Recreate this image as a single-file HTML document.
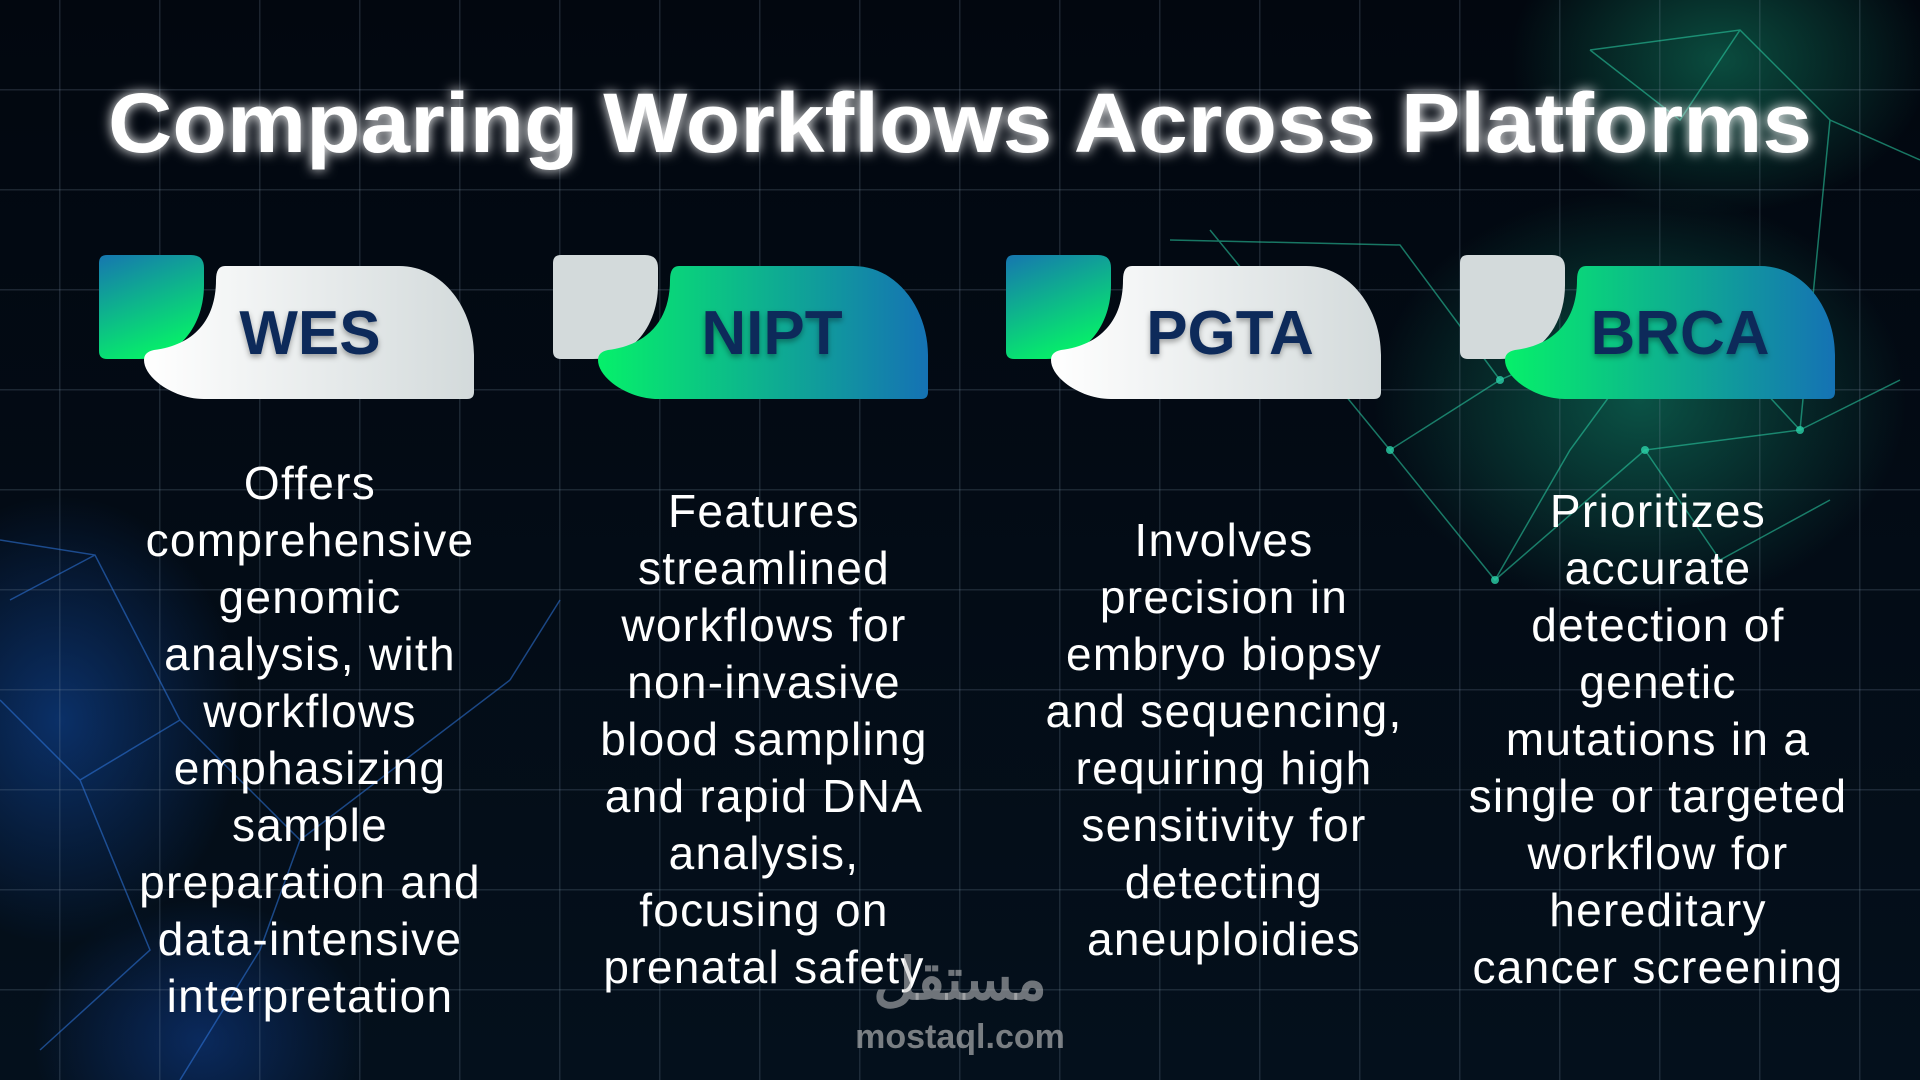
<!DOCTYPE html>
<html><head><meta charset="utf-8"><style>
html,body{margin:0;padding:0}
body{width:1920px;height:1080px;overflow:hidden;background:#030a14;position:relative;font-family:"Liberation Sans","Noto Sans CJK SC",sans-serif}
.bg{position:absolute;inset:0;background:
radial-gradient(ellipse 380px 300px at 1640px 400px,rgba(20,170,130,.45),transparent 70%),
radial-gradient(ellipse 300px 220px at 1720px 60px,rgba(20,160,120,.45),transparent 70%),
radial-gradient(ellipse 260px 320px at 60px 720px,rgba(20,90,200,.45),transparent 70%),
radial-gradient(ellipse 240px 200px at 200px 1040px,rgba(20,80,190,.4),transparent 70%),
linear-gradient(#02070f,#04101c);}
.grid{position:absolute;inset:0;background-image:linear-gradient(90deg,rgba(120,140,160,.22) 1.5px,transparent 1.5px),linear-gradient(rgba(120,140,160,.22) 1.5px,transparent 1.5px);background-size:100px 100px;background-position:59px 89px}
.txt{position:absolute;color:#fff;text-align:center;font-size:46px;line-height:57px;width:500px;white-space:nowrap;letter-spacing:1.3px}
</style></head><body>
<div class="bg"></div><div class="grid"></div>
<svg width="1920" height="1080" style="position:absolute;left:0;top:0">
<defs>
<linearGradient id="lt" x1="0" y1="0" x2="1" y2="0"><stop offset="0" stop-color="#ffffff"/><stop offset="1" stop-color="#d3dadb"/></linearGradient>
<linearGradient id="gr2" x1="0" y1="0" x2="1" y2="0"><stop offset="0" stop-color="#06f06a"/><stop offset="1" stop-color="#1572b4"/></linearGradient>
<linearGradient id="gs" x1="0" y1="0" x2="0.4" y2="1"><stop offset="0" stop-color="#1676b0"/><stop offset="1" stop-color="#06ee6a"/></linearGradient>
<filter id="glow"><feGaussianBlur stdDeviation="6" result="b"/><feMerge><feMergeNode in="b"/><feMergeNode in="SourceGraphic"/></feMerge></filter>
<filter id="sh"><feDropShadow dx="0" dy="3" stdDeviation="3" flood-color="#000" flood-opacity=".35"/></filter>
</defs>
<g stroke="#2bd1a8" stroke-width="1.5" fill="none" opacity=".55">
<path d="M1390 450 L1500 380 L1680 300 L1800 430 L1645 450 L1495 580 L1390 450 M1495 580 L1570 450 L1680 300 M1800 430 L1900 380 M1210 230 L1390 450 M1170 240 L1400 245 L1500 380 M1590 50 L1740 30 L1830 120 L1920 160 M1740 30 L1680 120 L1590 50 M1830 120 L1800 430 M1645 450 L1720 560 L1830 500"/>
</g>
<g stroke="#2f78e0" stroke-width="1.5" fill="none" opacity=".55">
<path d="M0 540 L95 555 L180 720 L80 780 L0 700 M95 555 L10 600 M180 720 L300 840 L260 950 L180 1080 M300 840 L510 680 M80 780 L150 950 L40 1050 M510 680 L560 600"/>
</g>
<g fill="#2bd1a8" opacity=".8"><circle cx="1390" cy="450" r="4"/><circle cx="1500" cy="380" r="4"/><circle cx="1680" cy="300" r="4"/><circle cx="1800" cy="430" r="4"/><circle cx="1495" cy="580" r="4"/><circle cx="1645" cy="450" r="4"/></g>
<text x="960" y="152" text-anchor="middle" font-family="Liberation Sans" font-weight="bold" font-size="84" fill="#fff" textLength="1704" lengthAdjust="spacingAndGlyphs" filter="url(#glow)">Comparing Workflows Across Platforms</text>

<g transform="translate(99,0)">
<path d="M8 255 H92 Q105 255 105 268 V285 C105 325 80 359 40 359 H8 Q0 359 0 351 V263 Q0 255 8 255Z" fill="url(#gs)"/>
<path d="M126 266 H300 C345 266 375 310 375 355 V392 Q375 399 368 399 H105 C75 399 45 378 45 360 Q45 352 55 350 C95 345 117 320 117 280 Q117 266 126 266Z" fill="url(#lt)"/>
<text x="211" y="354" text-anchor="middle" font-weight="bold" font-size="62" fill="#0d2b5a" filter="url(#sh)">WES</text>
</g>
<g transform="translate(553,0)">
<path d="M8 255 H92 Q105 255 105 268 V285 C105 325 80 359 40 359 H8 Q0 359 0 351 V263 Q0 255 8 255Z" fill="#d3dadb"/>
<path d="M126 266 H300 C345 266 375 310 375 355 V392 Q375 399 368 399 H105 C75 399 45 378 45 360 Q45 352 55 350 C95 345 117 320 117 280 Q117 266 126 266Z" fill="url(#gr2)"/>
<text x="219" y="354" text-anchor="middle" font-weight="bold" font-size="62" fill="#0d2b5a" filter="url(#sh)">NIPT</text>
</g>
<g transform="translate(1006,0)">
<path d="M8 255 H92 Q105 255 105 268 V285 C105 325 80 359 40 359 H8 Q0 359 0 351 V263 Q0 255 8 255Z" fill="url(#gs)"/>
<path d="M126 266 H300 C345 266 375 310 375 355 V392 Q375 399 368 399 H105 C75 399 45 378 45 360 Q45 352 55 350 C95 345 117 320 117 280 Q117 266 126 266Z" fill="url(#lt)"/>
<text x="224" y="354" text-anchor="middle" font-weight="bold" font-size="62" fill="#0d2b5a" filter="url(#sh)">PGTA</text>
</g>
<g transform="translate(1460,0)">
<path d="M8 255 H92 Q105 255 105 268 V285 C105 325 80 359 40 359 H8 Q0 359 0 351 V263 Q0 255 8 255Z" fill="#d3dadb"/>
<path d="M126 266 H300 C345 266 375 310 375 355 V392 Q375 399 368 399 H105 C75 399 45 378 45 360 Q45 352 55 350 C95 345 117 320 117 280 Q117 266 126 266Z" fill="url(#gr2)"/>
<text x="220" y="354" text-anchor="middle" font-weight="bold" font-size="62" fill="#0d2b5a" filter="url(#sh)">BRCA</text>
</g>
</svg>
<div class="txt" style="left:60px;top:455px">Offers<br>comprehensive<br>genomic<br>analysis, with<br>workflows<br>emphasizing<br>sample<br>preparation and<br>data-intensive<br>interpretation</div>
<div class="txt" style="left:514px;top:483px">Features<br>streamlined<br>workflows for<br>non-invasive<br>blood sampling<br>and rapid DNA<br>analysis,<br>focusing on<br>prenatal safety</div>
<div class="txt" style="left:974px;top:512px">Involves<br>precision in<br>embryo biopsy<br>and sequencing,<br>requiring high<br>sensitivity for<br>detecting<br>aneuploidies</div>
<div class="txt" style="left:1408px;top:483px">Prioritizes<br>accurate<br>detection of<br>genetic<br>mutations in a<br>single or targeted<br>workflow for<br>hereditary<br>cancer screening</div>
<div style="position:absolute;left:820px;top:945px;width:280px;text-align:center;color:rgba(200,200,200,.55);font-size:58px;font-weight:bold;font-family:'Liberation Sans','Noto Sans CJK SC',sans-serif;line-height:70px">مستقل</div>
<div style="position:absolute;left:820px;top:1018px;width:280px;text-align:center;color:rgba(200,200,200,.6);font-size:34px;font-weight:bold">mostaql.com</div>
</body></html>
